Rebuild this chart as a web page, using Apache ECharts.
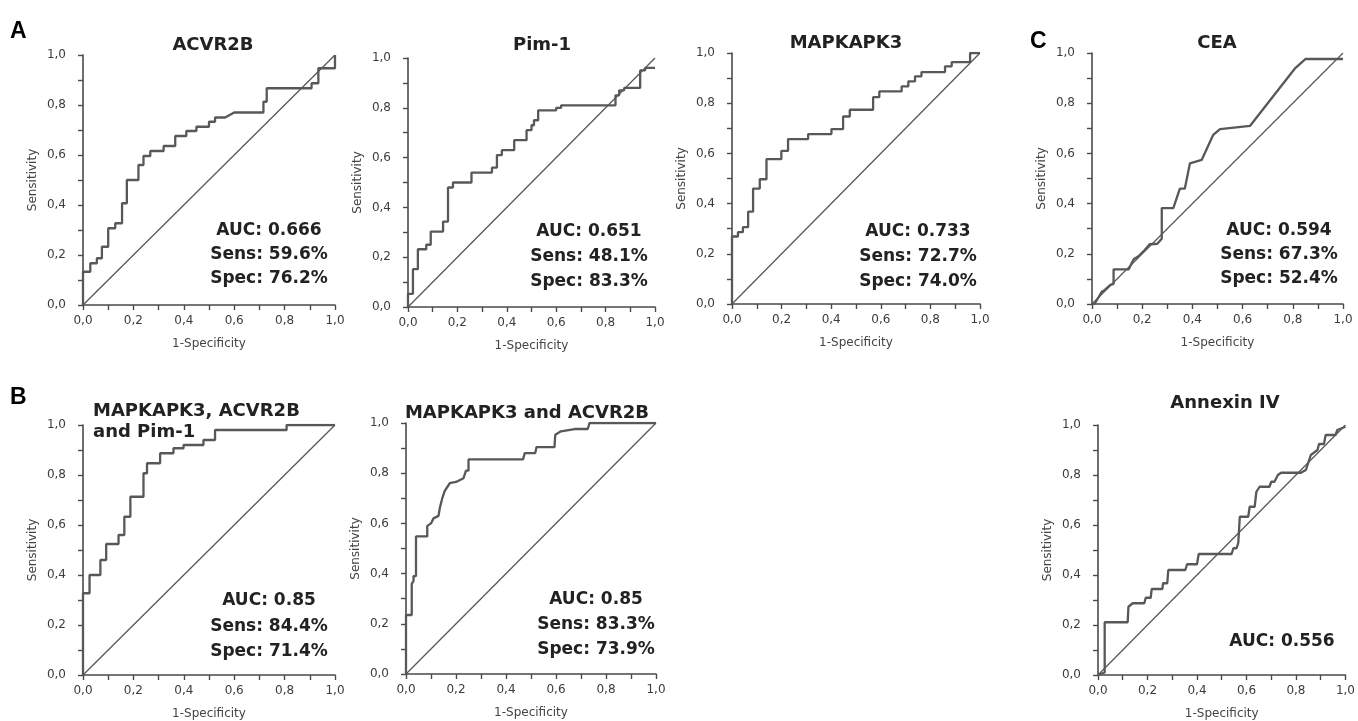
<!DOCTYPE html>
<html><head><meta charset="utf-8">
<script src="https://cdn.jsdelivr.net/npm/echarts@6/dist/echarts.min.js"></script>
<style>html,body{margin:0;padding:0;background:#fff}#c{width:1358px;height:721px}</style>
</head><body><div id="c"></div>
<script>
// ROC curves: [1-Specificity, Sensitivity] vertices
const acvr2b = [[0,0],[0,0.133],[0.029,0.133],[0.029,0.167],[0.055,0.167],[0.055,0.187],[0.075,0.187],[0.075,0.233],[0.10,0.233],[0.10,0.307],[0.128,0.307],[0.128,0.327],[0.155,0.327],[0.155,0.407],[0.174,0.407],[0.174,0.50],[0.22,0.50],[0.22,0.56],[0.24,0.56],[0.24,0.596],[0.267,0.596],[0.267,0.616],[0.32,0.616],[0.32,0.636],[0.366,0.636],[0.366,0.676],[0.41,0.676],[0.41,0.696],[0.45,0.696],[0.45,0.713],[0.50,0.713],[0.50,0.733],[0.524,0.733],[0.524,0.75],[0.564,0.75],[0.6,0.77],[0.716,0.77],[0.716,0.813],[0.729,0.813],[0.729,0.867],[0.907,0.867],[0.907,0.887],[0.934,0.887],[0.934,0.947],[1.0,0.947],[1.0,1.0]];
const pim1 = [[0,0],[0,0.053],[0.02,0.053],[0.02,0.152],[0.04,0.152],[0.04,0.232],[0.074,0.232],[0.074,0.25],[0.092,0.25],[0.092,0.303],[0.142,0.303],[0.142,0.343],[0.162,0.343],[0.162,0.48],[0.182,0.48],[0.182,0.50],[0.257,0.50],[0.257,0.54],[0.34,0.54],[0.34,0.56],[0.36,0.56],[0.36,0.61],[0.38,0.61],[0.38,0.63],[0.43,0.63],[0.43,0.67],[0.48,0.67],[0.48,0.71],[0.50,0.71],[0.50,0.73],[0.51,0.73],[0.51,0.75],[0.527,0.75],[0.527,0.79],[0.60,0.79],[0.60,0.80],[0.62,0.80],[0.62,0.81],[0.84,0.81],[0.84,0.85],[0.855,0.85],[0.855,0.87],[0.875,0.87],[0.875,0.88],[0.94,0.88],[0.94,0.95],[0.96,0.95],[0.96,0.96],[1.0,0.96]];
const mapkapk3 = [[0,0],[0,0.269],[0.024,0.269],[0.024,0.286],[0.044,0.286],[0.044,0.306],[0.065,0.306],[0.065,0.368],[0.085,0.368],[0.085,0.46],[0.112,0.46],[0.112,0.497],[0.139,0.497],[0.139,0.577],[0.199,0.577],[0.199,0.61],[0.226,0.61],[0.226,0.657],[0.307,0.657],[0.307,0.677],[0.401,0.677],[0.401,0.697],[0.448,0.697],[0.448,0.747],[0.475,0.747],[0.475,0.774],[0.569,0.774],[0.569,0.824],[0.594,0.824],[0.594,0.847],[0.684,0.847],[0.684,0.867],[0.711,0.867],[0.711,0.887],[0.738,0.887],[0.738,0.907],[0.764,0.907],[0.764,0.924],[0.859,0.924],[0.859,0.947],[0.886,0.947],[0.886,0.964],[0.96,0.964],[0.96,1.0],[1.0,1.0]];
const cea = [[0,0],[0.01,0],[0.04,0.05],[0.05,0.055],[0.073,0.076],[0.086,0.08],[0.086,0.138],[0.146,0.138],[0.166,0.178],[0.185,0.19],[0.21,0.215],[0.23,0.238],[0.26,0.24],[0.278,0.26],[0.278,0.382],[0.324,0.382],[0.35,0.46],[0.37,0.46],[0.39,0.56],[0.437,0.574],[0.483,0.674],[0.51,0.697],[0.63,0.71],[0.81,0.94],[0.85,0.976],[1.0,0.976]];
const combo3 = [[0,0],[0,0.327],[0.026,0.327],[0.026,0.40],[0.069,0.40],[0.069,0.46],[0.092,0.46],[0.092,0.524],[0.141,0.524],[0.141,0.56],[0.164,0.56],[0.164,0.633],[0.188,0.633],[0.188,0.713],[0.24,0.713],[0.24,0.807],[0.254,0.807],[0.254,0.847],[0.306,0.847],[0.306,0.887],[0.359,0.887],[0.359,0.907],[0.399,0.907],[0.399,0.92],[0.478,0.92],[0.478,0.94],[0.524,0.94],[0.524,0.98],[0.808,0.98],[0.808,1.0],[1.0,1.0]];
const combo2 = [[0,0],[0,0.235],[0.023,0.235],[0.023,0.36],[0.03,0.37],[0.03,0.39],[0.04,0.39],[0.04,0.548],[0.085,0.548],[0.085,0.59],[0.1,0.60],[0.11,0.62],[0.13,0.63],[0.135,0.66],[0.145,0.70],[0.155,0.73],[0.175,0.76],[0.2,0.765],[0.23,0.78],[0.24,0.81],[0.25,0.81],[0.25,0.855],[0.468,0.855],[0.475,0.88],[0.517,0.88],[0.522,0.904],[0.594,0.904],[0.597,0.953],[0.62,0.967],[0.674,0.976],[0.727,0.976],[0.734,1.0],[1.0,1.0]];
const annexin = [[0,0],[0.027,0.01],[0.027,0.211],[0.12,0.211],[0.123,0.273],[0.14,0.287],[0.187,0.287],[0.193,0.309],[0.213,0.309],[0.217,0.344],[0.26,0.344],[0.263,0.367],[0.28,0.367],[0.284,0.42],[0.353,0.42],[0.36,0.443],[0.40,0.443],[0.407,0.484],[0.54,0.484],[0.547,0.507],[0.56,0.507],[0.567,0.529],[0.573,0.529],[0.573,0.633],[0.607,0.633],[0.613,0.673],[0.633,0.673],[0.64,0.733],[0.653,0.753],[0.693,0.753],[0.70,0.773],[0.713,0.773],[0.727,0.80],[0.74,0.809],[0.82,0.809],[0.84,0.82],[0.86,0.88],[0.887,0.90],[0.893,0.924],[0.913,0.924],[0.92,0.96],[0.96,0.96],[0.967,0.98],[1.0,0.993]];
const reference = [[0,0],[1,1]];

const curves = [acvr2b, pim1, mapkapk3, cea, combo3, combo2, annexin];
const titles = ['ACVR2B', 'Pim-1', 'MAPKAPK3', 'CEA', 'MAPKAPK3, ACVR2B\nand Pim-1', 'MAPKAPK3 and ACVR2B', 'Annexin IV'];
const stats = [
  ['AUC: 0.666', 'Sens: 59.6%', 'Spec: 76.2%'],
  ['AUC: 0.651', 'Sens: 48.1%', 'Spec: 83.3%'],
  ['AUC: 0.733', 'Sens: 72.7%', 'Spec: 74.0%'],
  ['AUC: 0.594', 'Sens: 67.3%', 'Spec: 52.4%'],
  ['AUC: 0.85', 'Sens: 84.4%', 'Spec: 71.4%'],
  ['AUC: 0.85', 'Sens: 83.3%', 'Spec: 73.9%'],
  ['AUC: 0.556']
];
const panelLetters = ['A', 'B', 'C'];
const xName = '1-Specificity';
const yName = 'Sensitivity';

// layout (pixels)
const layout = [
  {grid:{left:83, top:55, width:252, height:250}, title:{x:213, y:45, align:'center', va:'middle'}, stat:{x:269, y:231, dy:24}},
  {grid:{left:408, top:58, width:247, height:249}, title:{x:542, y:45, align:'center', va:'middle'}, stat:{x:589, y:232, dy:25}},
  {grid:{left:732, top:53, width:248, height:251}, title:{x:846, y:43, align:'center', va:'middle'}, stat:{x:918, y:232, dy:25}},
  {grid:{left:1092, top:53, width:251, height:251}, title:{x:1217, y:43, align:'center', va:'middle'}, stat:{x:1279, y:231, dy:24}},
  {grid:{left:83, top:425, width:252, height:250}, title:{x:93, y:401, align:'left', va:'top'}, stat:{x:269, y:601, dy:25.5}},
  {grid:{left:406, top:423, width:250, height:251}, title:{x:527, y:413, align:'center', va:'middle'}, stat:{x:596, y:600, dy:25}},
  {grid:{left:1098, top:425, width:250, height:250}, title:{x:1225, y:403, align:'center', va:'middle'}, stat:{x:1282, y:642, dy:25}}
];
const letterPos = [{x:10, y:32}, {x:10, y:398}, {x:1030, y:42}];

const AX = '#4a4a4a';
const LINE = '#585858';
const FONT = '"DejaVu Sans", Verdana, sans-serif';
const fmt = v => (Math.round(v * 10) % 2 === 0) ? v.toFixed(1).replace('.', ',') : '';

const grids = [], xAxes = [], yAxes = [], series = [], graphics = [];
layout.forEach((p, i) => {
  grids.push(Object.assign({containLabel:false}, p.grid));
  xAxes.push({
    type:'value', gridIndex:i, min:0, max:1, interval:0.1,
    name:xName, nameLocation:'middle', nameGap:33,
    nameTextStyle:{color:'#444', fontSize:12, fontFamily:FONT},
    axisLine:{show:true, onZero:false, lineStyle:{color:AX, width:1.6}},
    axisTick:{show:true, inside:false, length:5, lineStyle:{color:AX, width:1.4}},
    axisLabel:{formatter:fmt, color:'#3c3c3c', fontSize:12, margin:10, fontFamily:FONT, showMaxLabel:true, showMinLabel:true},
    splitLine:{show:false}
  });
  yAxes.push({
    type:'value', gridIndex:i, min:0, max:1, interval:0.1,
    name:yName, nameLocation:'middle', nameGap:44,
    nameTextStyle:{color:'#444', fontSize:12, fontFamily:FONT},
    axisLine:{show:true, onZero:false, lineStyle:{color:AX, width:1.6}},
    axisTick:{show:true, inside:false, length:5, lineStyle:{color:AX, width:1.4}},
    axisLabel:{formatter:fmt, color:'#3c3c3c', fontSize:12, margin:17, fontFamily:FONT, showMaxLabel:true, showMinLabel:true},
    splitLine:{show:false}
  });
  series.push({
    type:'line', xAxisIndex:i, yAxisIndex:i, data:reference, showSymbol:false, silent:true,
    lineStyle:{color:LINE, width:1.3}, animation:false
  });
  series.push({
    type:'line', xAxisIndex:i, yAxisIndex:i, data:curves[i], showSymbol:false, silent:true,
    lineStyle:{color:LINE, width:2.3}, animation:false
  });
  graphics.push({
    type:'text', x:p.title.x, y:p.title.y,
    style:{text:titles[i], fill:'#222', font:'bold 18px ' + FONT,
      textAlign:p.title.align, textVerticalAlign:p.title.va, lineHeight:21}
  });
  stats[i].forEach((s, k) => {
    graphics.push({
      type:'text', x:p.stat.x, y:p.stat.y + k * p.stat.dy,
      style:{text:s, fill:'#222', font:'bold 17px ' + FONT,
        textAlign:'center', textVerticalAlign:'middle'}
    });
  });
});
panelLetters.forEach((t, i) => {
  graphics.push({
    type:'text', x:letterPos[i].x, y:letterPos[i].y,
    style:{text:t, fill:'#000', font:'bold 23px "Liberation Sans", Arial, sans-serif',
      textAlign:'left', textVerticalAlign:'middle'}
  });
});

const chart = echarts.init(document.getElementById('c'), null, {renderer:'canvas'});
chart.setOption({
  backgroundColor:'#fff', animation:false,
  grid:grids, xAxis:xAxes, yAxis:yAxes, series:series, graphic:graphics
});
</script>
</body></html>
